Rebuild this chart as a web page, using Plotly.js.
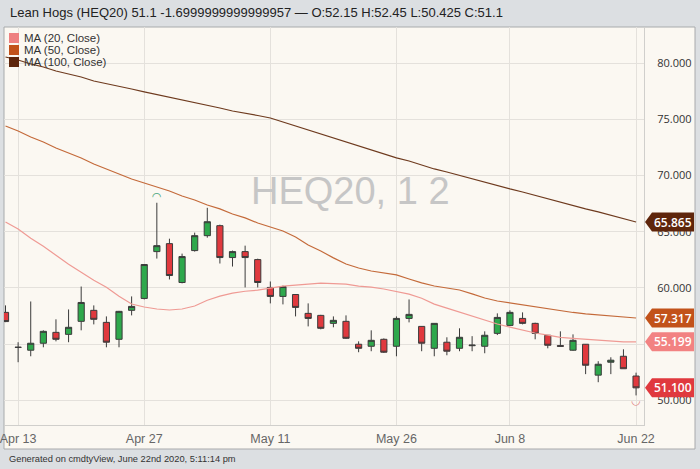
<!DOCTYPE html>
<html><head><meta charset="utf-8">
<script src="https://cdn.plot.ly/plotly-3.0.1.min.js"></script>
<style>html,body{margin:0;padding:0;background:#dcdfe2;}#chart{width:700px;height:469px;}</style>
</head><body><div id="chart"></div>
<script>
const dates = ['2020-04-09','2020-04-13','2020-04-14','2020-04-15','2020-04-16','2020-04-17',
  '2020-04-20','2020-04-21','2020-04-22','2020-04-23','2020-04-24',
  '2020-04-27','2020-04-28','2020-04-29','2020-04-30','2020-05-01',
  '2020-05-04','2020-05-05','2020-05-06','2020-05-07','2020-05-08',
  '2020-05-11','2020-05-12','2020-05-13','2020-05-14','2020-05-15',
  '2020-05-18','2020-05-19','2020-05-20','2020-05-21','2020-05-22',
  '2020-05-26','2020-05-27','2020-05-28','2020-05-29',
  '2020-06-01','2020-06-02','2020-06-03','2020-06-04','2020-06-05',
  '2020-06-08','2020-06-09','2020-06-10','2020-06-11','2020-06-12',
  '2020-06-15','2020-06-16','2020-06-17','2020-06-18','2020-06-19',
  '2020-06-22'];
const opens  = [57.82,54.72,54.45,55.07,56.04,55.86,57.02,58.00,56.93,55.42,58.00,
  59.06,63.23,63.94,60.48,63.32,64.65,65.54,62.70,63.23,62.52,
  60.04,59.24,59.41,57.73,57.55,56.84,57.02,54.98,54.80,55.42,
  54.80,57.28,56.57,54.62,55.16,54.62,54.85,54.80,55.95,
  56.66,57.28,56.84,55.78,54.86,54.45,54.98,52.23,53.38,53.91,52.15];
const highs  = [58.44,55.16,58.79,56.22,57.20,58.08,60.12,58.44,57.46,57.95,59.24,
  62.12,67.58,64.38,63.05,64.92,67.13,65.63,63.32,63.76,62.60,
  60.57,60.20,59.45,58.62,57.60,57.46,57.55,55.24,56.22,55.50,
  57.46,58.97,56.60,56.84,55.60,56.40,55.70,56.13,57.73,
  58.00,57.82,56.90,55.80,56.13,55.86,55.00,53.47,53.82,54.53,52.45];
const lows   = [56.95,53.38,53.91,54.71,55.24,55.16,56.22,56.75,54.71,54.71,57.55,
  58.97,62.61,60.75,60.40,63.23,64.47,62.17,61.90,60.04,60.04,
  58.62,58.53,57.46,56.57,56.31,56.49,55.45,54.27,54.36,54.20,
  53.91,56.93,54.36,53.91,54.00,54.36,54.36,54.18,55.80,
  56.60,56.75,55.42,54.62,54.80,54.40,52.32,51.60,52.32,52.80,50.425];
const closes = [57.00,54.70,55.07,56.13,55.42,56.49,58.70,57.20,55.16,57.91,58.35,
  62.08,63.76,61.10,62.79,64.65,65.89,62.70,63.23,62.70,60.48,
  59.24,60.12,58.26,57.28,56.40,57.11,55.51,54.62,55.33,54.27,
  57.28,57.64,55.07,56.84,54.36,55.60,54.90,55.78,57.37,
  57.82,56.84,55.95,54.89,54.80,55.33,53.11,53.20,53.56,52.80,51.10];
const ma20 = [65.87,65.24,64.42,63.70,62.90,62.10,61.40,60.68,60.06,59.26,58.56,
  58.30,58.12,58.03,58.12,58.39,58.90,59.26,59.53,59.70,59.80,
  59.97,60.15,60.24,60.33,60.42,60.38,60.33,60.15,60.06,59.90,
  59.70,59.44,59.08,58.55,58.20,57.84,57.50,57.13,56.78,
  56.50,56.25,55.98,55.80,55.60,55.50,55.42,55.33,55.24,55.20,55.199];
const ma50 = [74.42,73.97,73.44,72.99,72.46,72.01,71.57,71.03,70.59,70.14,69.70,
  69.34,68.98,68.63,68.18,67.83,67.38,67.03,66.58,66.23,65.78,
  65.42,65.07,64.53,63.82,63.29,62.67,62.13,61.77,61.50,61.33,
  61.15,60.79,60.44,60.17,59.99,59.81,59.46,59.10,58.83,
  58.66,58.48,58.30,58.12,57.95,57.81,57.68,57.59,57.50,57.41,57.317];
const ma100 = [80.56,80.29,79.94,79.67,79.31,79.05,78.78,78.42,78.20,77.98,77.71,
  77.45,77.22,77.00,76.73,76.51,76.29,76.02,75.75,75.57,75.35,
  75.13,74.77,74.42,74.06,73.70,73.35,72.99,72.63,72.28,71.92,
  71.57,71.30,70.94,70.59,70.32,70.01,69.70,69.39,69.12,
  68.81,68.54,68.23,67.92,67.65,67.34,67.03,66.77,66.45,66.14,65.865];
const tickDates = ['2020-04-13','2020-04-27','2020-05-11','2020-05-26','2020-06-08','2020-06-22'];
const tickLabels = ['Apr 13','Apr 27','May 11','May 26','Jun 8','Jun 22'];
const priceTicks = [50,55,60,65,70,75,80];
const maNames = ['MA (20, Close)','MA (50, Close)','MA (100, Close)'];
const titleText = 'Lean Hogs (HEQ20) 51.1 -1.6999999999999957 \u2014 O:52.15 H:52.45 L:50.425 C:51.1';
const footerText = 'Generated on cmdtyView, June 22nd 2020, 5:11:14 pm';
const watermarkText = 'HEQ20, 1 2';

const W = 700, H = 469, L = 4, R = 56, T = 27, B = 44;
const PW = W - L - R, PH = H - T - B;
const px = x => (x - L) / PW;
const py = y => (H - B - y) / PH;

const maColors = ['#ee8080', '#c2521a', '#5e250b'];
const lineColors = ['#ef9a94', '#c46a3a', '#6e3a1e'];
const lastColor = '#e0393e';

const traces = [
  {type:'scatter', mode:'lines', x:dates, y:ma20, line:{color:lineColors[0], width:1.2}, hoverinfo:'skip'},
  {type:'scatter', mode:'lines', x:dates, y:ma50, line:{color:lineColors[1], width:1.2}, hoverinfo:'skip'},
  {type:'scatter', mode:'lines', x:dates, y:ma100, line:{color:lineColors[2], width:1.2}, hoverinfo:'skip'},
  {type:'candlestick', x:dates, open:opens, high:highs, low:lows, close:closes,
   increasing:{line:{color:'#3b3b3b', width:1}, fillcolor:'#2ea84c'},
   decreasing:{line:{color:'#3b3b3b', width:1}, fillcolor:'#e0393e'},
   whiskerwidth:0, hoverinfo:'skip'}
];
const hiIdx = highs.indexOf(Math.max(...highs));
const loIdx = lows.indexOf(Math.min(...lows));
traces.push({type:'scatter', mode:'text', x:[dates[hiIdx]], y:[highs[hiIdx]], text:['\u25E0'],
  textposition:'top center', textfont:{color:'#4aa57c', size:11, family:'DejaVu Sans'}, hoverinfo:'skip'});
traces.push({type:'scatter', mode:'text', x:[dates[loIdx]], y:[lows[loIdx]], text:['\u25E1'],
  textposition:'bottom center', textfont:{color:'#e07a7a', size:11, family:'DejaVu Sans'}, hoverinfo:'skip'});

const shapes = [
  {type:'rect', xref:'paper', yref:'paper', x0:px(4), x1:px(695), y0:py(449), y1:py(27),
   fillcolor:'#fbf8f2', line:{color:'#a8aaac', width:1}, layer:'below'}
];
const annotations = [
  {xref:'paper', yref:'paper', x:px(8), y:py(12), xanchor:'left', yanchor:'middle', showarrow:false,
   text:titleText, font:{family:'Liberation Sans, Arial', size:13, color:'#222'}},
  {xref:'paper', yref:'paper', x:px(7), y:py(459), xanchor:'left', yanchor:'middle', showarrow:false,
   text:footerText, font:{family:'Liberation Sans, Arial', size:9.3, color:'#333'}},
  {xref:'paper', yref:'paper', x:px(350), y:py(191), xanchor:'center', yanchor:'middle', showarrow:false,
   text:watermarkText, font:{family:'Liberation Sans, Arial', size:38, color:'#c6c6c6'}}
];
maNames.forEach((n, i) => {
  const yc = 38 + i * 12;
  shapes.push({type:'rect', xref:'paper', yref:'paper', x0:px(9), x1:px(19), y0:py(yc+5), y1:py(yc-5),
    fillcolor:maColors[i], line:{width:0}});
  annotations.push({xref:'paper', yref:'paper', x:px(22), y:py(yc), xanchor:'left', yanchor:'middle',
    showarrow:false, text:n, font:{family:'Liberation Sans, Arial', size:11.5, color:'#333'}});
});
const tags = [
  {v: ma100[ma100.length-1], c: maColors[2]},
  {v: ma50[ma50.length-1], c: maColors[1]},
  {v: ma20[ma20.length-1], c: '#f28282'},
  {v: closes[closes.length-1], c: lastColor}
];
tags.forEach(t => {
  shapes.push({type:'path', xref:'paper', yref:'y', xsizemode:'pixel', ysizemode:'pixel',
    xanchor:1, yanchor:t.v, path:'M1,0 L8,-9.5 L50,-9.5 L50,9.5 L8,9.5 Z',
    fillcolor:t.c, line:{width:0}, layer:'above'});
  annotations.push({xref:'paper', yref:'y', x:1, y:t.v, xanchor:'center', yanchor:'middle', xshift:29,
    showarrow:false, text:t.v.toFixed(3), font:{family:'Open Sans', size:12, color:'#fff', weight:600}});
});

const layout = {
  width:W, height:H, margin:{l:L, r:R, t:T, b:B},
  paper_bgcolor:'#dcdfe2', plot_bgcolor:'rgba(0,0,0,0)',
  showlegend:false, hovermode:false, dragmode:false,
  xaxis:{type:'category', range:[-0.12, 50.63], tickmode:'array', tickvals:tickDates, ticktext:tickLabels,
    showgrid:true, gridcolor:'#e4e1dc', gridwidth:1, showline:true, linecolor:'#d0cfcc', linewidth:1,
    ticks:'outside', ticklen:2, tickcolor:'rgba(0,0,0,0)',
    tickfont:{family:'Liberation Sans Narrow, Liberation Sans', size:12.5, color:'#666'},
    rangeslider:{visible:false}, zeroline:false, fixedrange:true},
  yaxis:{side:'right', range:[47.79, 83.23], tickmode:'array', tickvals:priceTicks, tickformat:'.3f',
    showgrid:true, gridcolor:'#e4e1dc', gridwidth:1, showline:true, linecolor:'#d0cfcc', linewidth:1,
    ticks:'outside', ticklen:10, tickcolor:'rgba(0,0,0,0)',
    tickfont:{family:'Open Sans', size:11, color:'#333'}, zeroline:false, fixedrange:true},
  shapes:shapes, annotations:annotations
};
Plotly.newPlot('chart', traces, layout, {displayModeBar:false, staticPlot:true});
</script></body></html>
